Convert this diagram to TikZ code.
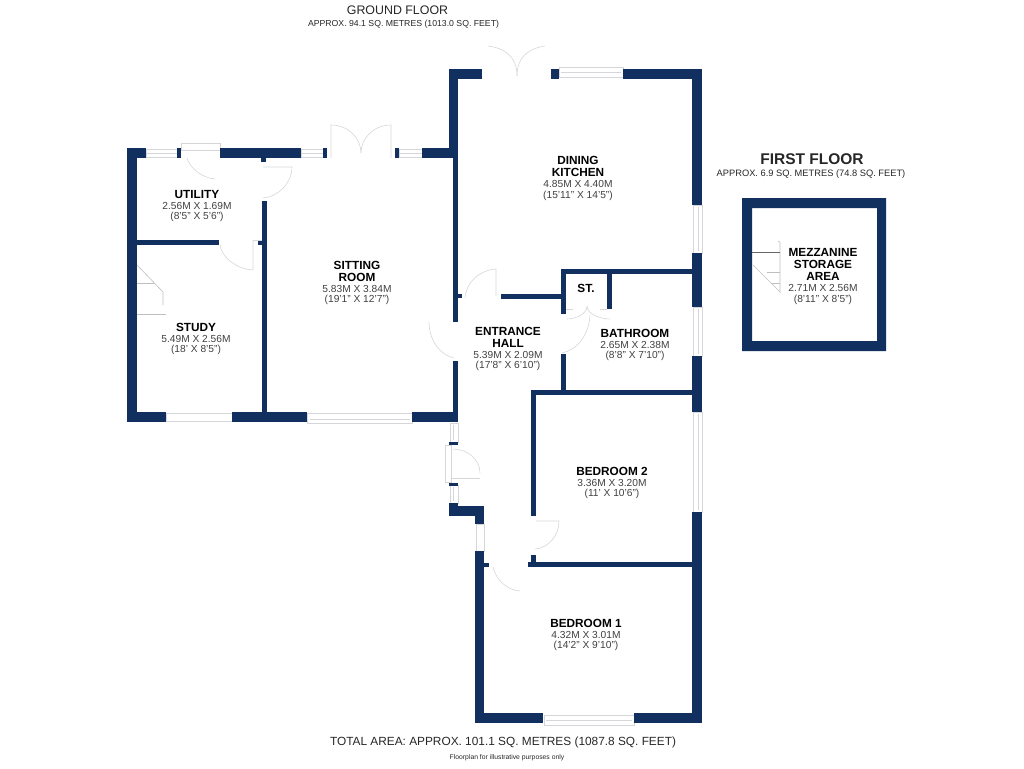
\documentclass[tikz,border=0pt]{standalone}
\usepackage{fontspec}
\setmainfont{Liberation Sans}
\newcommand{\nm}[1]{{\fontsize{11.8}{11.8}\selectfont\bfseries\color{black} #1}}
\definecolor{wallblue}{HTML}{12305F}
\definecolor{fitting}{HTML}{D4D6D9}
\tikzset{
  wall/.style={fill=wallblue},
  glazing/.style={draw=fitting,fill=white,line width=0.7pt},
  swing/.style={draw=fitting,line width=0.6pt},
  stairline/.style={draw=gray!50,line width=0.6pt},
  room/.style={align=center,inner sep=0pt,text=black!75,font=\fontsize{10.2}{10.7}\selectfont},
  caption/.style={align=center,inner sep=0pt,text=black!85}
}

\begin{document}
\begin{tikzpicture}[x=1pt,y=-1pt]
  \useasboundingbox (0,0) rectangle (1024,768);
  % windows and frames first
  \draw[glazing] (146,149) rectangle (177,157);
  \draw[swing] (146,153) -- (177,153);
  \draw[glazing] (181,143) rectangle (220,150);
  \draw[glazing] (301,149) rectangle (323,157);
  \draw[swing] (301,153) -- (323,153);
  \draw[glazing] (399,149) rectangle (422,157);
  \draw[swing] (399,153) -- (422,153);
  \draw[glazing] (166,413) rectangle (232,421);
  \draw[glazing] (307,413) rectangle (412,423);
  \draw[swing] (310,419) -- (410,419);
  \draw[glazing] (559,67) rectangle (623,77);
  \draw[swing] (561,72) -- (621,72);
  \draw[glazing] (693,205) rectangle (702,253);
  \draw[swing] (698,207) -- (698,251);
  \draw[glazing] (693,307) rectangle (702,356);
  \draw[swing] (698,309) -- (698,354);
  \draw[glazing] (693,412) rectangle (702,512);
  \draw[swing] (698,414) -- (698,510);
  \draw[glazing] (450,423) rectangle (458,442);
  \draw[swing] (453,425) -- (453,440);
  \draw[glazing] (450,485) rectangle (458,503);
  \draw[swing] (453,487) -- (453,501);
  \draw[glazing] (445,445) rectangle (451,482);
  \draw[glazing] (476,524) rectangle (484,551);
  \draw[glazing] (544,715) rectangle (634,725);
  \draw[swing] (546,720) -- (632,720);
  %
  % ground floor walls
  \fill[wall] (127,148) rectangle (146,158);
  \fill[wall] (127,148) rectangle (137,422);
  \fill[wall] (127,412) rectangle (166,422);
  \fill[wall] (232,412) rectangle (307,422);
  \fill[wall] (412,412) rectangle (458,422);
  \fill[wall] (177,148) rectangle (181,158);
  \fill[wall] (220,148) rectangle (301,158);
  \fill[wall] (323,148) rectangle (327,158);
  \fill[wall] (395,148) rectangle (399,158);
  \fill[wall] (422,148) rectangle (458,158);
  \fill[wall] (261,158) rectangle (266,162);
  \fill[wall] (262,201) rectangle (267,412);
  \fill[wall] (137,240) rectangle (219,245);
  \fill[wall] (258,240) rectangle (262,245);
  %
  \fill[wall] (449,69) rectangle (482,79);
  \fill[wall] (449,69) rectangle (458,148);
  \fill[wall] (453,148) rectangle (458,322);
  \fill[wall] (458,294) rectangle (462,298);
  \fill[wall] (453,361) rectangle (458,422);
  \fill[wall] (551,69) rectangle (559,79);
  \fill[wall] (623,69) rectangle (702,79);
  \fill[wall] (692,69) rectangle (702,205);
  \fill[wall] (692,253) rectangle (702,307);
  \fill[wall] (692,356) rectangle (702,412);
  \fill[wall] (692,512) rectangle (702,723);
  %
  \fill[wall] (561,269) rectangle (692,274);
  \fill[wall] (561,269) rectangle (566,314);
  \fill[wall] (607,269) rectangle (612,309);
  \fill[wall] (501,294) rectangle (561,299);
  \fill[wall] (561,354) rectangle (566,392);
  \fill[wall] (531,390) rectangle (692,395);
  \fill[wall] (531,390) rectangle (536,516);
  \fill[wall] (531,555) rectangle (536,567);
  \fill[wall] (528,562) rectangle (692,567);
  %
  \fill[wall] (449,442) rectangle (458,444.5);
  \fill[wall] (449,483) rectangle (458,485.5);
  \fill[wall] (449,503) rectangle (458,516);
  \fill[wall] (449,506) rectangle (484,516);
  \fill[wall] (475,506) rectangle (484,524);
  \fill[wall] (475,551) rectangle (484,723);
  \fill[wall] (484,563) rectangle (489,567);
  \fill[wall] (475,713) rectangle (543,723);
  \fill[wall] (634,713) rectangle (702,723);
  %
  % door swings
  \draw[swing] (187,158) .. controls (190,168) and (202,178) .. (215,179);
  \draw[swing] (263,167) -- (292,167) .. controls (292,183) and (278,197) .. (263,198);
  \draw[swing] (253,240) -- (253,270) .. controls (237,269) and (222,258) .. (220,245);
  \draw[swing] (253,240) -- (262,240);
  \draw[swing] (331,158) -- (331,125) .. controls (348,125) and (361,138) .. (361,153);
  \draw[swing] (391,158) -- (391,125) .. controls (374,125) and (361,138) .. (361,153);
  \draw[swing] (488,46) .. controls (504,48) and (517,56) .. (517,76);
  \draw[swing] (545,46) .. controls (530,48) and (517,56) .. (517,76);
  \draw[swing] (496,296) -- (496,269) .. controls (480,270) and (466,282) .. (465,298);
  \draw[swing] (429,322) .. controls (429,340) and (440,355) .. (454,358);
  \draw[swing] (590,315) .. controls (589,335) and (577,350) .. (562,353);
  \draw[swing] (567,319) .. controls (576,319) and (587,314) .. (587,306);
  \draw[swing] (610,319) .. controls (600,319) and (587,314) .. (587,306);
  \draw[swing] (566,309) -- (573,309);
  \draw[swing] (600,309) -- (607,309);
  \draw[swing] (536,521) -- (559,521) .. controls (559,536) and (548,548) .. (535,549);
  \draw[swing] (451,478) -- (480,478);
  \draw[swing] (453,449) .. controls (468,449) and (480,460) .. (480,473);
  \draw[swing] (493,567) .. controls (496,580) and (507,590) .. (520,591);
  %
  % stairs
  \draw[stairline] (137,265) -- (163,292) -- (163,305);
  \draw[stairline] (137,283) -- (154,283);
  \draw[stairline] (137,314) -- (166,314);
  %
  % mezzanine
  \fill[wall,even odd rule] (742,198) rectangle (886,351) (752,208) rectangle (877,341);
  \draw[stairline] (778,241) -- (780,242) -- (780,293);
  \draw[draw=black!60,line width=0.6pt] (752,252) -- (780,252);
  \draw[stairline] (753,265) -- (780,292);
  \draw[stairline] (767,272) -- (780,272);
  \draw[stairline] (772,283) -- (780,283);
  %
  % headings
  \node[caption,font=\fontsize{12.4}{14}\selectfont] (groundtitle) at (397.5,10) {GROUND FLOOR};
  \node[caption,font=\fontsize{8.7}{10}\selectfont] (groundarea) at (403.5,24) {APPROX. 94.1 SQ. METRES (1013.0 SQ. FEET)};
  \node[caption,font=\fontsize{15.5}{16}\selectfont\bfseries] (firsttitle) at (812,159.5) {FIRST FLOOR};
  \node[caption,font=\fontsize{9.3}{10}\selectfont] (firstarea) at (811,174.5) {APPROX. 6.9 SQ. METRES (74.8 SQ. FEET)};
  \node[caption,font=\fontsize{11.85}{13}\selectfont] (totalarea) at (503,742.5) {TOTAL AREA: APPROX. 101.1 SQ. METRES (1087.8 SQ. FEET)};
  \node[caption,font=\fontsize{6.8}{8}\selectfont] (disclaimer) at (507,758) {Floorplan for illustrative purposes only};
  %
  % rooms
  \node[room] (utility) at (197,206) {\nm{UTILITY}\\2.56M X 1.69M\\(8'5" X 5'6")};
  \node[room] (study) at (196,339) {\nm{STUDY}\\5.49M X 2.56M\\(18' X 8'5")};
  \node[room] (sitting) at (357,283) {\nm{SITTING}\\[1.2pt]\nm{ROOM}\\5.83M X 3.84M\\(19'1" X 12'7")};
  \node[room] (dining) at (578,178.5) {\nm{DINING}\\[1.2pt]\nm{KITCHEN}\\4.85M X 4.40M\\(15'11" X 14'5")};
  \node[room] (hall) at (508,349) {\nm{ENTRANCE}\\[1.2pt]\nm{HALL}\\5.39M X 2.09M\\(17'8" X 6'10")};
  \node[room] (store) at (586,288.5) {\nm{ST.}};
  \node[room] (bathroom) at (635,345) {\nm{BATHROOM}\\2.65M X 2.38M\\(8'8" X 7'10")};
  \node[room] (bedtwo) at (612,483) {\nm{BEDROOM 2}\\3.36M X 3.20M\\(11' X 10'6")};
  \node[room] (bedone) at (586,635) {\nm{BEDROOM 1}\\4.32M X 3.01M\\(14'2" X 9'10")};
  \node[room] (mezzanine) at (823,276.5) {\nm{MEZZANINE}\\[1.2pt]\nm{STORAGE}\\[1.2pt]\nm{AREA}\\2.71M X 2.56M\\(8'11" X 8'5")};
\end{tikzpicture}
\end{document}
